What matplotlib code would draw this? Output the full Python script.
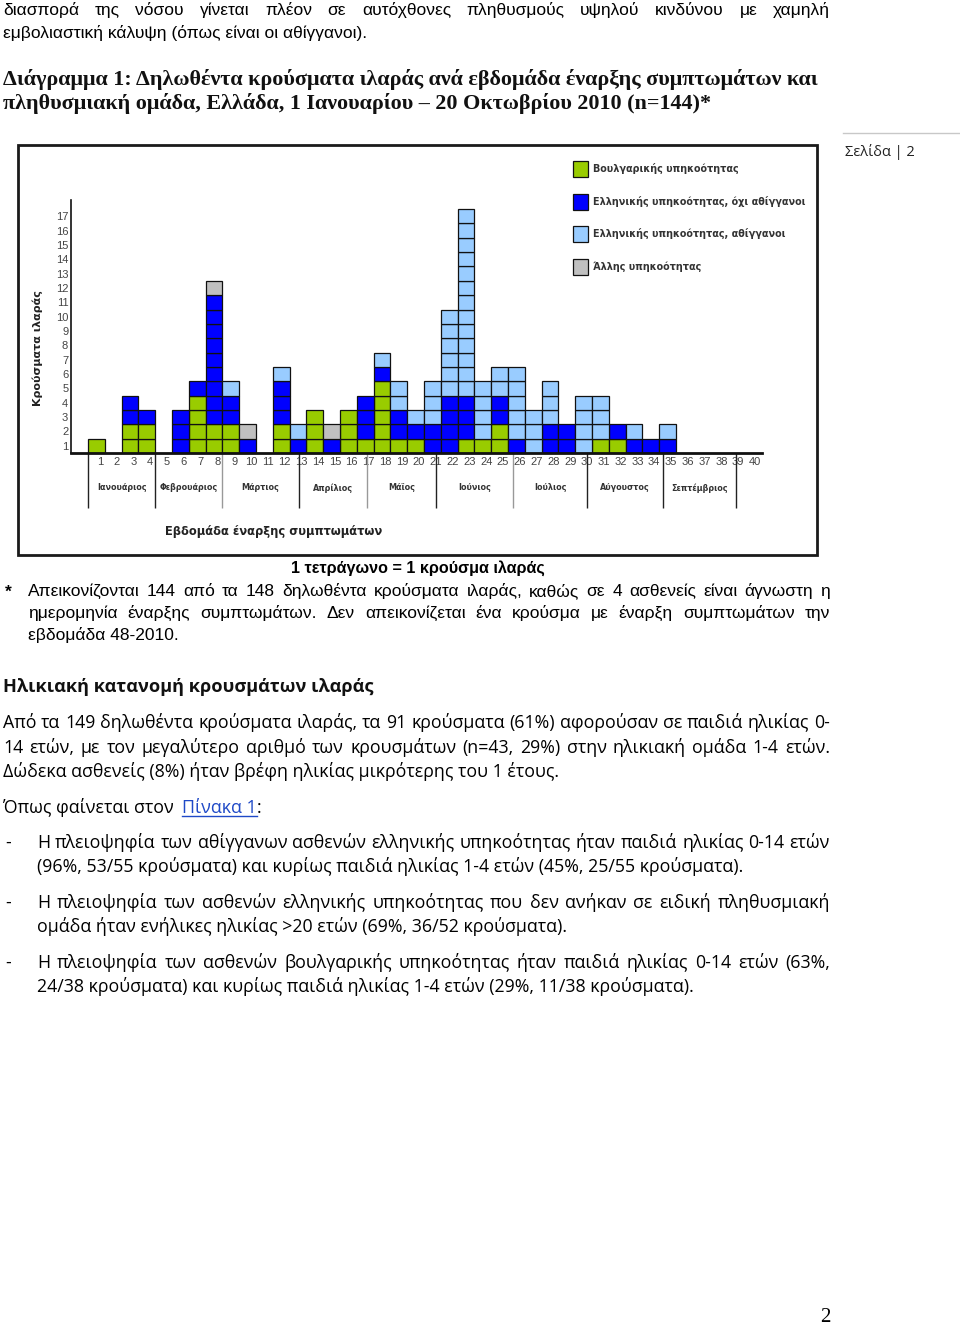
import matplotlib
matplotlib.use("Agg")
import matplotlib.pyplot as plt
from matplotlib import font_manager
from matplotlib.patches import Rectangle
from matplotlib.lines import Line2D
import numpy as np

# weekly counts of measles cases by population group (weeks 1-40, 2010)
weeks = np.arange(1, 41)
bulgarian = [1, 0, 2, 2, 0, 0, 4, 2, 2, 0, 0, 2, 0, 3, 0, 3, 1, 5, 1, 1,
             0, 0, 1, 1, 2, 0, 0, 0, 0, 0, 1, 1, 0, 0, 0, 0, 0, 0, 0, 0]
greek_other = [0, 0, 2, 1, 0, 3, 1, 9, 2, 1, 0, 3, 1, 0, 1, 0, 3, 1, 2, 1,
               2, 4, 3, 0, 2, 1, 0, 2, 2, 0, 0, 1, 1, 1, 1, 0, 0, 0, 0, 0]
greek_roma = [0, 0, 0, 0, 0, 0, 0, 0, 1, 0, 0, 1, 1, 0, 0, 0, 0, 1, 2, 1,
              3, 6, 13, 4, 2, 5, 3, 3, 0, 4, 3, 0, 1, 0, 1, 0, 0, 0, 0, 0]
other_nat = [0, 0, 0, 0, 0, 0, 0, 1, 0, 1, 0, 0, 0, 0, 1, 0, 0, 0, 0, 0,
             0, 0, 0, 0, 0, 0, 0, 0, 0, 0, 0, 0, 0, 0, 0, 0, 0, 0, 0, 0]
series_names = ["Βουλγαρικής υπηκοότητας",
                "Ελληνικής υπηκοότητας, όχι αθίγγανοι",
                "Ελληνικής υπηκοότητας, αθίγγανοι",
                "Άλλης υπηκοότητας"]
series_colors = ["#99cc00", "#0000ff", "#99ccff", "#c0c0c0"]

months = ["Ιανουάριος", "Φεβρουάριος", "Μάρτιος", "Απρίλιος", "Μάϊος",
          "Ιούνιος", "Ιούλιος", "Αύγουστος", "Σεπτέμβριος"]
month_edges = [0.5, 4.5, 8.5, 13.05, 17.1, 21.2, 25.8, 30.2, 34.7, 39.1]
edge_colors = ["#222", "#222", "#999", "#222", "#999", "#222", "#999", "#222", "#222", "#222"]

W, H = 960, 1325
fig = plt.figure(figsize=(W / 100, H / 100), dpi=100)
r = fig.canvas.get_renderer()

names = {f.name for f in font_manager.fontManager.ttflist}
narrow = "Liberation Sans Narrow" if "Liberation Sans Narrow" in names else "Liberation Sans"
body = ["Open Sans", "DejaVu Sans"]
condensed = [narrow, "DejaVu Sans"]
serif = ["Liberation Serif", "DejaVu Serif"]


def fx(x):
    return x / W


def fy(y):
    return 1 - y / H


def put(s, x, y, size, **kw):
    return fig.text(fx(x), fy(y), s, fontsize=size, va="baseline", **kw)


def width(t):
    return t.get_window_extent(renderer=r).width


def fit_size(s, target, **kw):
    t = fig.text(0, 0, s, fontsize=10, **kw)
    w = width(t)
    t.remove()
    return 10 * target / w


def justify(s, x0, x1, y, size, **kw):
    words = s.split()
    ts = [put(w, 0, y, size, **kw) for w in words]
    ws = [width(t) for t in ts]
    gap = (x1 - x0 - sum(ws)) / (len(ws) - 1)
    x = x0
    for t, w in zip(ts, ws):
        t.set_x(fx(x))
        x += w + gap


# ---- text above the chart
s_top = 1.15 * fit_size("εμβολιαστική κάλυψη (όπως είναι οι αθίγγανοι).", 317, family=condensed)
justify("διασπορά της νόσου γίνεται πλέον σε αυτόχθονες πληθυσμούς υψηλού κινδύνου με χαμηλή",
        3, 830, 15, s_top, family=condensed)
put("εμβολιαστική κάλυψη (όπως είναι οι αθίγγανοι).", 3, 38, s_top, family=condensed)

title1 = "Διάγραμμα 1: Δηλωθέντα κρούσματα ιλαράς ανά εβδομάδα έναρξης συμπτωμάτων και"
title2 = "πληθυσμιακή ομάδα, Ελλάδα, 1 Ιανουαρίου – 20 Οκτωβρίου 2010 (n=144)*"
s_title = fit_size(title1, 817, family=serif, weight="bold")
put(title1, 3, 85, s_title, family=serif, weight="bold", color="#111")
put(title2, 3, 109, s_title, family=serif, weight="bold", color="#111")

put("Σελίδα | 2", 845, 156, 10.5, family=body, color="#222")
fig.add_artist(Line2D([fx(843), fx(960)], [fy(133), fy(133)], color="#c8c8c8", lw=1))

# ---- chart frame
fig.add_artist(Rectangle((fx(18), fy(555)), (817 - 18) / W, (555 - 145) / H,
                         fill=False, edgecolor="#1a1a1a", lw=2))

ax = fig.add_axes([fx(71), fy(453), (762 - 71) / W, (453 - 200) / H])
row_h = 14.35
col_w = 16.8
ax.set_xlim(0.5 - (88 - 71) / col_w, 0.5 + (762 - 88) / col_w)
ax.set_ylim(0, (453 - 200) / row_h)

bottom = np.zeros(len(weeks))
for counts, color, name in zip([bulgarian, greek_other, greek_roma, other_nat],
                               series_colors, series_names):
    xs, ys = [], []
    for i, n in enumerate(counts):
        for j in range(n):
            xs.append(weeks[i])
            ys.append(bottom[i] + j)
    ax.bar(xs, 1, bottom=ys, width=1, color=color, edgecolor="#111",
           linewidth=0.9, label=name)
    bottom += np.array(counts)

for side in ["top", "right"]:
    ax.spines[side].set_visible(False)
ax.spines["left"].set_linewidth(1.2)
ax.spines["left"].set_color("#111")
ax.spines["bottom"].set_linewidth(2)
ax.spines["bottom"].set_color("#111")

ax.set_yticks(np.arange(1, 18) - 0.5)
ax.set_yticklabels([str(k) for k in range(1, 18)], family=condensed, fontsize=8, color="#444")
ax.set_xticks(weeks + 0.2)
ax.set_xticklabels([str(k) for k in weeks], family=condensed, fontsize=8, color="#444")
ax.tick_params(axis="y", length=0, pad=2)
ax.tick_params(axis="x", length=0, pad=3)

ax.vlines(month_edges, -55 / row_h, 0, colors=edge_colors, lw=1, clip_on=False)
for k, name in enumerate(months):
    mid = (month_edges[k] + month_edges[k + 1]) / 2
    ax.text(mid, -35 / row_h, name, ha="center", va="center", fontsize=5.8,
            weight="bold", color="#333", family="DejaVu Sans")

fig.text(fx(38), fy(348), "Κρούσματα ιλαράς", rotation=90, ha="center", va="center",
         fontsize=8, weight="bold", color="#222", family="DejaVu Sans")
fig.text(fx(165), fy(532), "Εβδομάδα έναρξης συμπτωμάτων", ha="left", va="center",
         fontsize=8.3, weight="bold", color="#222", family="DejaVu Sans")

fig.legend(loc="upper left", bbox_to_anchor=(fx(573), fy(161)), frameon=False,
           borderpad=0, borderaxespad=0, handlelength=1.55, handleheight=2.2,
           handletextpad=0.55, labelspacing=1.72,
           prop={"family": "DejaVu Sans", "weight": "bold", "size": 6.9},
           labelcolor="#333")

# ---- text below the chart
note = "1 τετράγωνο = 1 κρούσμα ιλαράς"
s_note = fit_size(note, 253, family=condensed, weight="bold")
put(note, 418, 573, s_note, family=condensed, weight="bold", ha="center")

s_foot = 1.02 * fit_size("εβδομάδα 48-2010.", 148, family=condensed)
put("*", 5, 597, s_foot, family=condensed, weight="bold")
justify("Απεικονίζονται 144 από τα 148 δηλωθέντα κρούσματα ιλαράς, καθώς σε 4 ασθενείς είναι άγνωστη η",
        28, 830, 596, s_foot, family=condensed)
justify("ημερομηνία έναρξης συμπτωμάτων. Δεν απεικονίζεται ένα κρούσμα με έναρξη συμπτωμάτων την",
        28, 830, 618, s_foot, family=condensed)
put("εβδομάδα 48-2010.", 28, 640, s_foot, family=condensed)

head = "Ηλικιακή κατανομή κρουσμάτων ιλαράς"
s_head = fit_size(head, 371, family=body, weight="bold")
put(head, 3, 692, s_head, family=body, weight="bold", color="#111")

last = "Δώδεκα ασθενείς (8%) ήταν βρέφη ηλικίας μικρότερης του 1 έτους."
s_body = fit_size(last, 554, family=body)
justify("Από τα 149 δηλωθέντα κρούσματα ιλαράς, τα 91 κρούσματα (61%) αφορούσαν σε παιδιά ηλικίας 0-",
        3, 830, 728, s_body, family=body)
justify("14 ετών, με τον μεγαλύτερο αριθμό των κρουσμάτων (n=43, 29%) στην ηλικιακή ομάδα 1-4 ετών.",
        3, 830, 753, s_body, family=body)
put(last, 3, 777, s_body, family=body)

t = put("Όπως φαίνεται στον ", 3, 813, s_body, family=body)
x = 3 + width(t) + 4
t = put("Πίνακα 1", x, 813, s_body, family=body, color="#1f49c7")
w = width(t)
fig.add_artist(Line2D([fx(x), fx(x + w)], [fy(816), fy(816)], color="#1f49c7", lw=1))
put(":", x + w, 813, s_body, family=body)

bullets = [
    ("Η πλειοψηφία των αθίγγανων ασθενών ελληνικής υπηκοότητας ήταν παιδιά ηλικίας 0-14 ετών",
     "(96%, 53/55 κρούσματα) και κυρίως παιδιά ηλικίας 1-4 ετών (45%, 25/55 κρούσματα).", 848),
    ("Η πλειοψηφία των ασθενών ελληνικής υπηκοότητας που δεν ανήκαν σε ειδική πληθυσμιακή",
     "ομάδα ήταν ενήλικες ηλικίας >20 ετών (69%, 36/52 κρούσματα).", 908),
    ("Η πλειοψηφία των ασθενών βουλγαρικής υπηκοότητας ήταν παιδιά ηλικίας 0-14 ετών (63%,",
     "24/38 κρούσματα) και κυρίως παιδιά ηλικίας 1-4 ετών (29%, 11/38 κρούσματα).", 968),
]
for first, second, y in bullets:
    put("-", 5, y, s_body, family=body)
    justify(first, 37, 830, y, s_body, family=body)
    put(second, 37, y + 24, s_body, family=body)

put("2", 825, 1322, 15, family=serif, ha="center")

fig.savefig("out.png", dpi=100)
